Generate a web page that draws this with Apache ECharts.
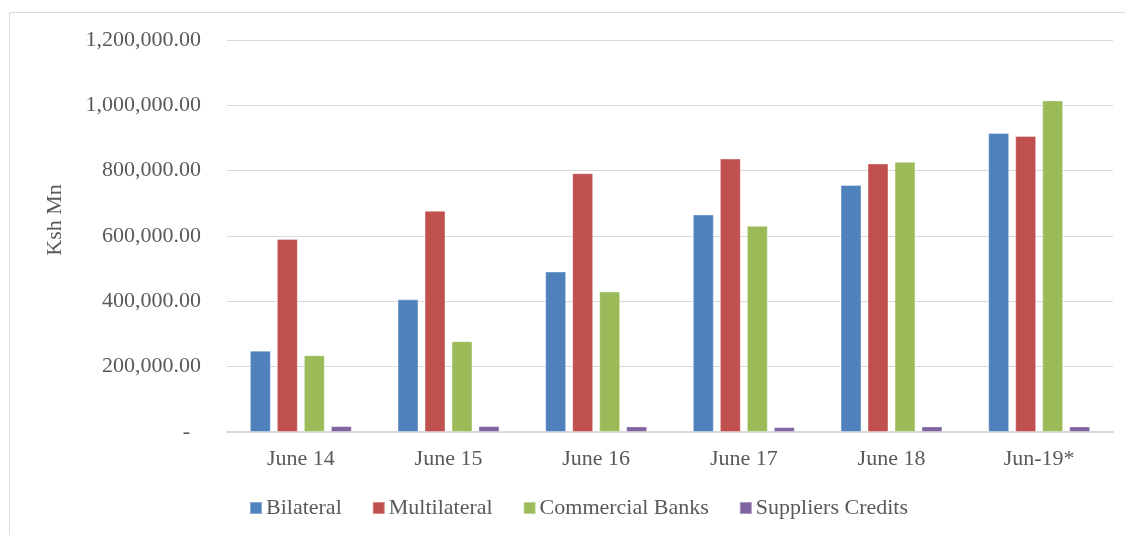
<!doctype html>
<html>
<head>
    <meta charset="utf-8">
    <title>Ksh Mn</title>
    <style>
        html, body { margin: 0; padding: 0; background: #ffffff; }
        #chart { width: 1125px; height: 535px; }
    </style>
</head>
<body>
    <div id="chart"></div>
</body>
</html>
<script type="text/javascript" src="https://cdn.jsdelivr.net/npm/echarts@6/dist/echarts.min.js"></script>
<script type="text/javascript">
    // data
    var categories = ['June 14', 'June 15', 'June 16', 'June 17', 'June 18', 'Jun-19*'];
    var bilateral = [249000, 406000, 491000, 666000, 756000, 915000];
    var multilateral = [591000, 677000, 792000, 837000, 822000, 906000];
    var commercialBanks = [235000, 278000, 430000, 631000, 827000, 1015000];
    var suppliersCredits = [18000, 18000, 17000, 15000, 17000, 17000];
    var seriesNames = ['Bilateral', 'Multilateral', 'Commercial Banks', 'Suppliers Credits'];

    var font = "'Liberation Serif', 'Times New Roman', serif";
    var textColor = '#595959';

    var myChart = echarts.init(document.getElementById('chart'));

    function fmt(v) {
        if (v === 0) return '-  ';
        return v.toLocaleString('en-US', { minimumFractionDigits: 2, maximumFractionDigits: 2 });
    }

    function bar(name, data, color) {
        return {
            name: name,
            type: 'bar',
            data: data,
            barGap: '29%',
            barCategoryGap: '31%',
            itemStyle: {
                color: color,
                borderColor: 'rgba(255,255,255,0.35)',
                borderWidth: 1
            }
        };
    }

    var option = {
        animation: false,
        textStyle: { fontFamily: font },
        graphic: [{
            type: 'rect',
            shape: { x: 9.5, y: 12.5, width: 1300, height: 700 },
            style: { fill: 'none', stroke: '#d9d9d9', lineWidth: 1 }
        }, {
            type: 'text',
            x: 55,
            y: 220,
            rotation: Math.PI / 2,
            style: {
                text: 'Ksh Mn',
                font: "22px 'Liberation Serif', 'Times New Roman', serif",
                fill: textColor,
                align: 'center',
                verticalAlign: 'middle'
            }
        }],
        legend: {
            data: seriesNames,
            left: 244,
            top: 492,
            itemWidth: 12,
            itemHeight: 12,
            itemGap: 30,
            icon: 'rect',
            textStyle: { fontFamily: font, fontSize: 22, color: textColor, padding: [0, 0, 0, -1] }
        },
        grid: {
            left: 227,
            right: 12,
            top: 40,
            bottom: 103,
            containLabel: false
        },
        xAxis: {
            type: 'category',
            data: categories,
            axisLine: { lineStyle: { color: '#d9d9d9', width: 2 } },
            axisTick: { show: false },
            axisLabel: { fontFamily: font, fontSize: 22, color: textColor, margin: 16 }
        },
        yAxis: {
            type: 'value',
            min: 0,
            max: 1200000,
            interval: 200000,
            axisLine: { show: false },
            axisTick: { show: false },
            splitLine: { lineStyle: { color: '#d9d9d9', width: 1 } },
            axisLabel: { fontFamily: font, fontSize: 22, color: textColor, margin: 26, formatter: fmt }
        },
        series: [
            bar(seriesNames[0], bilateral, '#4F81BD'),
            bar(seriesNames[1], multilateral, '#C0504D'),
            bar(seriesNames[2], commercialBanks, '#9BBB59'),
            bar(seriesNames[3], suppliersCredits, '#8064A2')
        ]
    };

    myChart.setOption(option);
</script>
